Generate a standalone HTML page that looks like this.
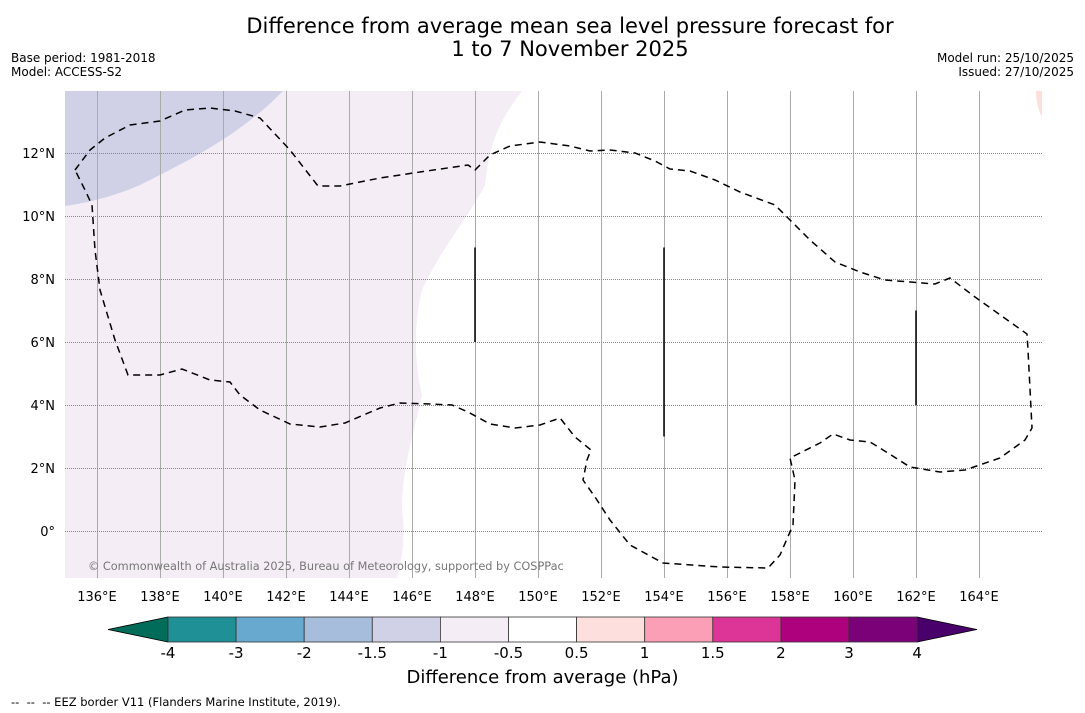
<!DOCTYPE html>
<html><head><meta charset="utf-8">
<style>
body{margin:0;background:#fff;font-family:"DejaVu Sans","Liberation Sans",sans-serif;}
#wrap{position:relative;width:1085px;height:713px;overflow:hidden;}
.t{position:absolute;white-space:nowrap;color:#000;}
</style></head>
<body>
<div id="wrap">
<div class="t" style="left:0;width:1140px;top:15px;text-align:center;font-size:21px;line-height:23px;">Difference from average mean sea level pressure forecast for<br>1 to 7 November 2025</div>
<div class="t" style="left:11px;top:51px;font-size:12px;line-height:14px;">Base period: 1981-2018<br>Model: ACCESS-S2</div>
<div class="t" style="right:11px;top:51px;font-size:12px;line-height:14px;text-align:right;">Model run: 25/10/2025<br>Issued: 27/10/2025</div>
<svg id="svg" width="1085" height="713" style="position:absolute;left:0;top:0"></svg>
<div class="t" style="left:0;width:1085px;text-align:center;top:667px;font-size:18px;">Difference from average (hPa)</div>
<div class="t" style="left:11px;top:695px;font-size:11.5px;">--&nbsp; --&nbsp; -- EEZ border V11 (Flanders Marine Institute, 2019).</div>
</div>
<script>
const lonTicks=[136,138,140,142,144,146,148,150,152,154,156,158,160,162,164];
const latTicks=[0,2,4,6,8,10,12];
const cbLevels=[-4,-3,-2,-1.5,-1,-0.5,0.5,1,1.5,2,3,4];
const cbLabels=["-4","-3","-2","-1.5","-1","-0.5","0.5","1","1.5","2","3","4"];
const cbColors=["#1e9096","#67a9cf","#a6bddb","#d0d1e6","#f4edf5","#ffffff","#fde0dd","#fa9fb5","#dd3497","#ae017e","#7a0177"];
const NS="http://www.w3.org/2000/svg";
const svg=document.getElementById('svg');
const X0=65,X1=1042,Y0=91,Y1=578;
const lonX=l=>97+(l-136)*31.5, latY=l=>531-l*31.5;
function mk(tag,attrs,parent){const e=document.createElementNS(NS,tag);for(const k in attrs)e.setAttribute(k,attrs[k]);(parent||svg).appendChild(e);return e;}
const defs=mk('defs',{});const cp=mk('clipPath',{id:'c'},defs);mk('rect',{x:X0,y:Y0,width:X1-X0,height:Y1-Y0},cp);
const g=mk('g',{'clip-path':'url(#c)'});
let e;
e=mk('path',{d:`M${X0} ${Y0}H522 C500 120 490 140 485 185 C470 215 440 250 422 290 C412 330 416 370 422 395 C412 440 402 470 402 510 C406 540 402 560 396 580 H${X0}Z`,fill:'#f4edf5'},g);

e=mk('path',{d:`M${X0} ${Y0}H283 C240 135 190 160 140 185 C110 198 85 203 ${X0} 206Z`,fill:'#d0d1e6'},g);

e=mk('path',{d:`M1036 ${Y0}H1042V117 C1038 110 1036 100 1036 ${Y0}Z`,fill:'#fde0dd'},g);

lonTicks.forEach(l=>{const x=Math.round(lonX(l))+0.5;
 const ln=mk('line',{x1:x,x2:x,y1:Y0,y2:Y1,stroke:'#aaa','stroke-width':1},g);
 
 const t=mk('text',{x:lonX(l),y:601,'text-anchor':'middle','font-size':13});t.textContent=l+'°E';
 });
latTicks.forEach(l=>{const y=Math.round(latY(l))+0.5;
 const ln=mk('line',{x1:X0,x2:X1,y1:y,y2:y,stroke:'#888','stroke-width':1,'stroke-dasharray':'1,1'},g);
 
 const t=mk('text',{x:55,y:latY(l)+5,'text-anchor':'end','font-size':13});t.textContent=l===0?'0°':l+'°N';
 });
const eez="M75 170L90 150L105 138L130 125L160 121L185 110L210 108L235 111L260 118L290 150L318 186L340 186L380 178L420 172L468 165L475 170L490 155L510 146L540 142L570 146L590 151L610 150L635 153L655 161L670 169L690 171L715 180L740 192L775 205L790 220L810 240L835 262L860 272L885 280L935 284L950 278L975 297L1027 334L1028 350L1032 428L1025 440L1000 458L965 470L940 472L910 467L880 448L870 442L850 440L833 434L820 443L800 453L790 458L795 480L793 525L780 555L768 568L720 567L663 563L630 545L610 520L595 497L583 480L587 460L591 450L575 437L560 418L540 425L515 428L490 424L468 412L452 405L430 404L400 403L380 408L345 423L320 427L290 424L260 410L240 395L230 382L210 380L182 369L160 375L128 375L115 340L100 290L95 250L92 205L85 190Z";
e=mk('path',{d:eez,fill:'none',stroke:'#000','stroke-width':1.5,'stroke-dasharray':'7,5'},g);

[[148,9,6],[154,9,3],[162,7,4]].forEach(v=>{const l=mk('line',{x1:lonX(v[0]),x2:lonX(v[0]),y1:latY(v[1]),y2:latY(v[2]),stroke:'#000','stroke-width':1.5},g);
 });
e=mk('text',{x:88,y:570,'font-size':11.3,fill:'#777'},g);e.textContent='© Commonwealth of Australia 2025, Bureau of Meteorology, supported by COSPPac';

const cbx=l=>168+cbLevels.indexOf(l)*68.1;
const cy0=617,cy1=642;
e=mk('polygon',{points:`108,629.5 168,${cy0} 168,${cy1}`,fill:'#016c59',stroke:'#000','stroke-width':0.8});

e=mk('polygon',{points:`977,629.5 917,${cy0} 917,${cy1}`,fill:'#49006a',stroke:'#000','stroke-width':0.8});

cbColors.forEach((c,i)=>{const x=cbx(cbLevels[i]),x2=cbx(cbLevels[i+1]);
 const r=mk('rect',{x:x,y:cy0,width:x2-x,height:cy1-cy0,fill:c,stroke:'#333','stroke-width':0.8});
 });
cbLevels.forEach((l,i)=>{const t=mk('text',{x:cbx(l),y:658,'text-anchor':'middle','font-size':15});t.textContent=cbLabels[i];
 });
</script>
</body></html>
